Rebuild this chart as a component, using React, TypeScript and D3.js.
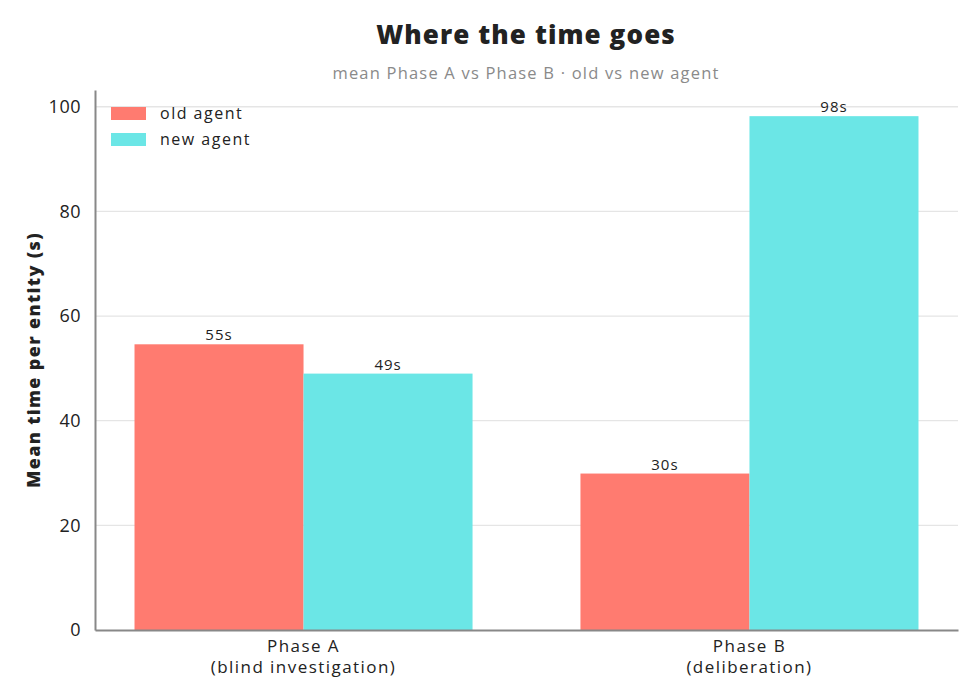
import { FC, useEffect, useRef } from 'react';
import * as d3 from 'd3';

const phases = ['Phase A|(blind investigation)', 'Phase B|(deliberation)'];
const seriesNames = ['old agent', 'new agent'];
const oldAgent = [54.6, 29.9];
const newAgent = [49.0, 98.2];
const valueLabels = [
  ['55s', '30s'],
  ['49s', '98s'],
];
const yTicks = [0, 20, 40, 60, 80, 100];

const colors = ['#FF7B70', '#6BE6E6'];
const FONT = '"Open Sans", Lato, sans-serif';

const Chart: FC = () => {
  const svgRef = useRef<SVGSVGElement>(null);

  useEffect(() => {
    if (!svgRef.current) return;
    const width = 980;
    const height = 700;
    const margin = { top: 90, right: 22, bottom: 70, left: 95 };
    const innerWidth = width - margin.left - margin.right;
    const innerHeight = height - margin.top - margin.bottom;

    const svg = d3.select(svgRef.current).attr('width', width).attr('height', height);
    svg.selectAll('*').remove();

    const series = [oldAgent, newAgent];

    const x0 = d3.scaleBand().domain(phases).range([0, innerWidth]).paddingInner(0.242).paddingOuter(0.0886);
    const x1 = d3.scaleBand().domain(seriesNames).range([0, x0.bandwidth()]);
    const y = d3.scaleLinear().domain([0, 103.2]).range([innerHeight, 0]);

    // Title
    svg
      .append('text')
      .attr('x', 526)
      .attr('y', 44)
      .attr('text-anchor', 'middle')
      .style('font-family', FONT)
      .style('font-weight', 800)
      .style('font-size', '26px')
      .style('letter-spacing', '1.1px')
      .style('fill', '#222')
      .text('Where the time goes');

    svg
      .append('text')
      .attr('x', 526)
      .attr('y', 79)
      .attr('text-anchor', 'middle')
      .style('font-family', FONT)
      .style('font-size', '16.5px')
      .style('letter-spacing', '1.2px')
      .style('fill', '#8a8a8a')
      .text('mean Phase A vs Phase B · old vs new agent');

    const g = svg.append('g').attr('transform', `translate(${margin.left},${margin.top})`);

    // Grid
    g.selectAll('.grid')
      .data(yTicks.filter((t) => t > 0))
      .enter()
      .append('line')
      .attr('x1', 0)
      .attr('x2', innerWidth)
      .attr('y1', (d) => y(d))
      .attr('y2', (d) => y(d))
      .attr('stroke', '#e5e5e5')
      .attr('stroke-width', 1.3);

    // Bars
    seriesNames.forEach((s, si) => {
      g.selectAll(`.bar-${si}`)
        .data(phases)
        .enter()
        .append('rect')
        .attr('x', (p) => (x0(p) || 0) + (x1(s) || 0))
        .attr('y', (_p, i) => y(series[si][i]))
        .attr('width', x1.bandwidth())
        .attr('height', (_p, i) => innerHeight - y(series[si][i]))
        .attr('fill', colors[si]);

      g.selectAll(`.lbl-${si}`)
        .data(phases)
        .enter()
        .append('text')
        .attr('x', (p) => (x0(p) || 0) + (x1(s) || 0) + x1.bandwidth() / 2)
        .attr('y', (_p, i) => y(series[si][i]) - 4)
        .attr('text-anchor', 'middle')
        .style('font-family', FONT)
        .style('font-size', '15px')
        .style('letter-spacing', '1px')
        .style('fill', '#222')
        .text((_p, i) => valueLabels[si][i]);
    });

    // Y axis
    const yAxis = g.append('g').call(d3.axisLeft(y).tickValues(yTicks).tickSize(0).tickPadding(14));
    yAxis.select('.domain').attr('stroke', '#888').attr('stroke-width', 2);
    yAxis
      .selectAll('text')
      .style('font-family', FONT)
      .style('font-size', '18px')
      .style('letter-spacing', '0.5px')
      .style('fill', '#222');

    // X axis
    const xAxis = g
      .append('g')
      .attr('transform', `translate(0,${innerHeight})`)
      .call(d3.axisBottom(x0).tickSize(0).tickPadding(8));
    xAxis.select('.domain').attr('stroke', '#888').attr('stroke-width', 2);
    xAxis.selectAll('text').remove();
    xAxis
      .selectAll('.tick')
      .append('text')
      .attr('text-anchor', 'middle')
      .style('font-family', FONT)
      .style('font-size', '17px')
      .style('letter-spacing', '1.45px')
      .style('fill', '#222')
      .selectAll('tspan')
      .data((d) => String(d).split('|'))
      .enter()
      .append('tspan')
      .attr('x', 0)
      .attr('y', (_d, i) => 22 + i * 21)
      .text((d) => d);

    // Y label
    svg
      .append('text')
      .attr('transform', `translate(40,${margin.top + innerHeight / 2}) rotate(-90)`)
      .attr('text-anchor', 'middle')
      .style('font-family', FONT)
      .style('font-weight', 800)
      .style('font-size', '18px')
      .style('letter-spacing', '1.35px')
      .style('fill', '#222')
      .text('Mean time per entity (s)');

    // Legend
    const legend = g.append('g').attr('transform', 'translate(16,17)');
    const items = legend
      .selectAll('.item')
      .data(seriesNames)
      .enter()
      .append('g')
      .attr('transform', (_d, i) => `translate(0,${i * 26})`);
    items
      .append('rect')
      .attr('width', 35)
      .attr('height', 13)
      .attr('fill', (_d, i) => colors[i]);
    items
      .append('text')
      .attr('x', 49)
      .attr('y', 12)
      .style('font-family', FONT)
      .style('font-size', '16px')
      .style('letter-spacing', '1.5px')
      .style('fill', '#222')
      .text((d) => d);
  }, []);

  return <svg ref={svgRef} style={{ display: 'block', margin: '-8px' }} />;
};

export default function App() {
  return <Chart />;
}
